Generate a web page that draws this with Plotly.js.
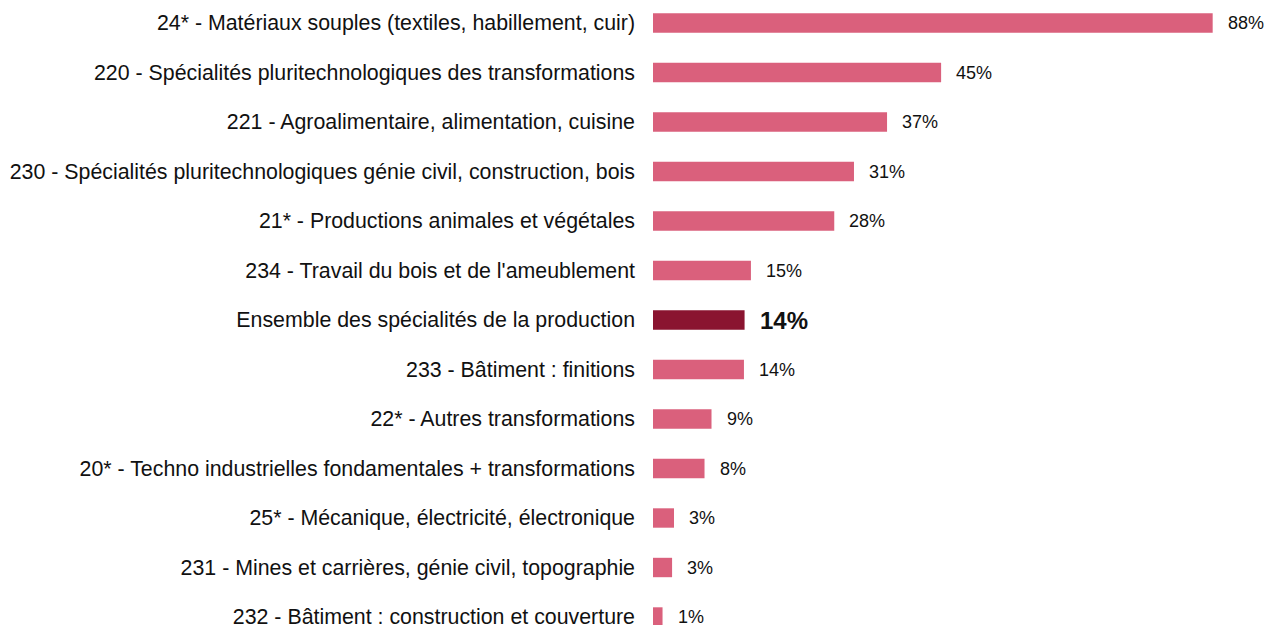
<!DOCTYPE html>
<html>
<head>
<meta charset="utf-8">
<script src="https://cdn.plot.ly/plotly-3.0.1.min.js"></script>
<style>html,body{margin:0;padding:0;background:#fff;}#chart{width:1267px;height:625px;}</style>
</head>
<body>
<div id="chart"></div>
<script>
const categories = [
  "24* - Matériaux souples (textiles, habillement, cuir)",
  "220 - Spécialités pluritechnologiques des transformations",
  "221 - Agroalimentaire, alimentation, cuisine",
  "230 - Spécialités pluritechnologiques génie civil, construction, bois",
  "21* - Productions animales et végétales",
  "234 - Travail du bois et de l'ameublement",
  "Ensemble des spécialités de la production",
  "233 - Bâtiment : finitions",
  "22* - Autres transformations",
  "20* - Techno industrielles fondamentales + transformations",
  "25* - Mécanique, électricité, électronique",
  "231 - Mines et carrières, génie civil, topographie",
  "232 - Bâtiment : construction et couverture"
];
const values = [88, 45.3, 36.8, 31.6, 28.5, 15.4, 14.4, 14.3, 9.2, 8.1, 3.3, 3.0, 1.5];
const valueLabels = ["88%", "45%", "37%", "31%", "28%", "15%", "14%", "14%", "9%", "8%", "3%", "3%", "1%"];
const totalCategory = "Ensemble des spécialités de la production";

const FONT = "Liberation Sans, Arial, sans-serif";
const PINK = "rgb(218,96,124)";
const DARK = "rgb(138,20,48)";

const trace = {
  type: "bar",
  orientation: "h",
  x: values,
  y: categories,
  marker: { color: categories.map(c => c === totalCategory ? DARK : PINK) },
  hoverinfo: "skip"
};

const annotations = categories.map((c, i) => {
  const isTotal = c === totalCategory;
  return {
    x: values[i], y: c, xref: "x", yref: "y",
    text: isTotal ? "<b>" + valueLabels[i] + "</b>" : valueLabels[i],
    showarrow: false, xanchor: "left", yanchor: "middle",
    xshift: 13,
    font: { family: FONT, size: isTotal ? 24 : 18, color: "#111" }
  };
});

const layout = {
  width: 1267, height: 625,
  margin: { l: 653, r: 0, t: 0, b: 0, pad: 0 },
  paper_bgcolor: "#fff", plot_bgcolor: "#fff",
  showlegend: false,
  bargap: 0.608,
  xaxis: { range: [0, 614 / 6.36], visible: false, fixedrange: true },
  yaxis: {
    type: "category",
    range: [(625 - 23) / 49.5, -23 / 49.5],
    showgrid: false, zeroline: false, showline: false, ticks: "",
    ticklabelstandoff: 17,
    tickfont: { family: FONT, size: 21.35, color: "#111" }
  },
  annotations: annotations
};

Plotly.newPlot("chart", [trace], layout, { displayModeBar: false, staticPlot: true });
</script>
</body>
</html>
